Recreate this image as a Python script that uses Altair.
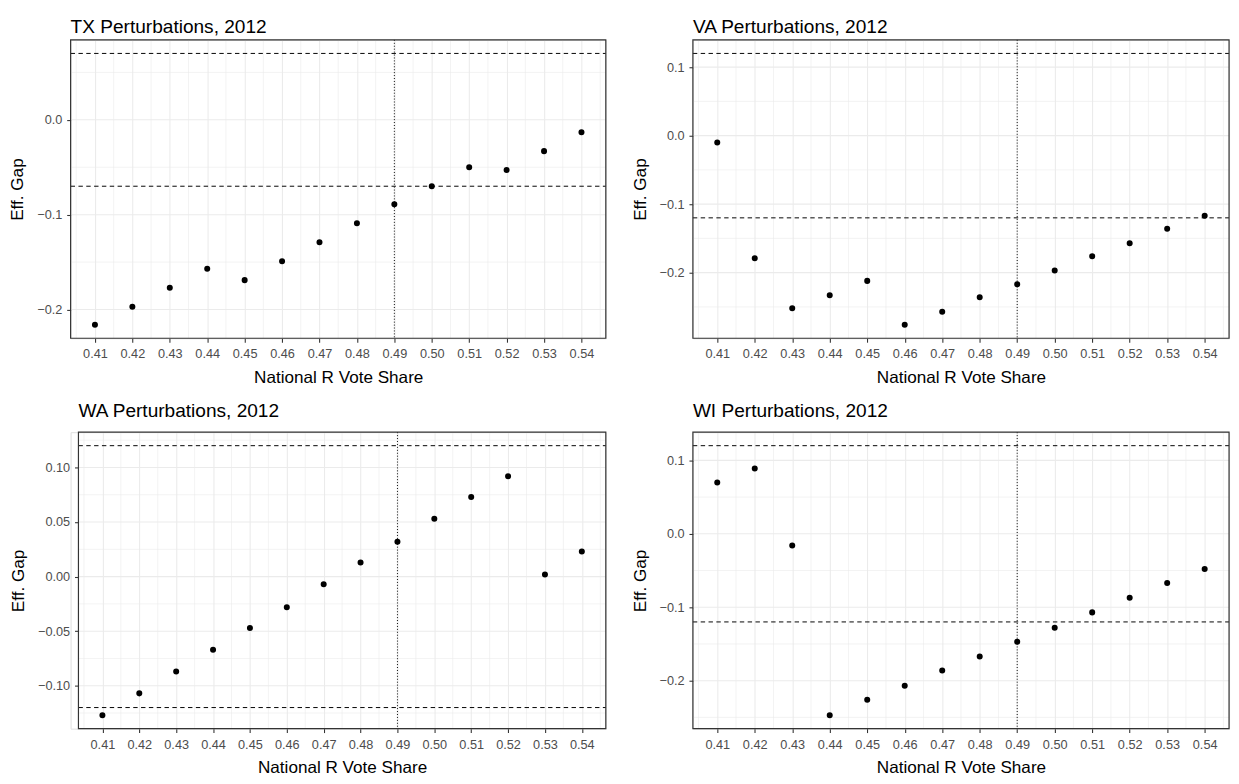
import altair as alt
import pandas as pd

# ---- data ----
vote_share = [0.41, 0.42, 0.43, 0.44, 0.45, 0.46, 0.47, 0.48, 0.49, 0.50, 0.51, 0.52, 0.53, 0.54]
tx_gap = [-0.216, -0.197, -0.177, -0.157, -0.169, -0.149, -0.129, -0.109, -0.089, -0.070, -0.050, -0.053, -0.033, -0.013]
va_gap = [-0.010, -0.179, -0.252, -0.233, -0.212, -0.276, -0.257, -0.236, -0.217, -0.197, -0.176, -0.157, -0.136, -0.117]
wa_gap = [-0.127, -0.107, -0.087, -0.067, -0.047, -0.028, -0.007, 0.013, 0.032, 0.053, 0.073, 0.092, 0.002, 0.023]
wi_gap = [0.070, 0.089, -0.016, -0.247, -0.226, -0.207, -0.186, -0.167, -0.147, -0.128, -0.107, -0.087, -0.067, -0.048]

states = ["TX", "VA", "WA", "WI"]
gaps = {"TX": tx_gap, "VA": va_gap, "WA": wa_gap, "WI": wi_gap}
thresholds = {"TX": 0.07, "VA": 0.12, "WA": 0.12, "WI": 0.12}
y_ticks = {
    "TX": [-0.2, -0.1, 0.0],
    "VA": [-0.2, -0.1, 0.0, 0.1],
    "WA": [-0.10, -0.05, 0.00, 0.05, 0.10],
    "WI": [-0.2, -0.1, 0.0, 0.1],
}
y_formats = {"TX": ".1f", "VA": ".1f", "WA": ".2f", "WI": ".1f"}
x_ticks = vote_share
ref_share = 0.49
year = 2012
x_title = "National R Vote Share"
y_title = "Eff. Gap"

FONT = "Liberation Sans"
GRID = "#EBEBEB"
BORDER = "#333333"
LABEL_FS = 13
TITLE_FS = 17.5
MAIN_FS = 19.5


def expand(lo, hi, f=0.05):
    r = hi - lo
    return [lo - r * f, hi + r * f]


def minor(ticks, dom):
    step = ticks[1] - ticks[0]
    cands = [ticks[0] - step / 2] + [(a + b) / 2 for a, b in zip(ticks[:-1], ticks[1:])] + [ticks[-1] + step / 2]
    return [c for c in cands if dom[0] <= c <= dom[1]]


def axis(values, fmt, title, label_pad, title_pad, grid, offset=0):
    return alt.Axis(values=values, format=fmt, title=title, grid=grid, gridColor=GRID,
                    gridWidth=1.1, domain=False, tickColor=BORDER, tickSize=4, tickWidth=1.1,
                    labelColor="#4D4D4D", labelFontSize=LABEL_FS, labelFont=FONT, labelPadding=label_pad,
                    titleFont=FONT, titleFontSize=TITLE_FS, titleFontWeight="normal", titleColor="black",
                    titlePadding=title_pad, labelFlush=False, offset=offset)


def panel(st, w, h, title_offset, inset=0):
    g = gaps[st]
    thr = thresholds[st]
    xdom = expand(min(vote_share), max(vote_share))
    ydom = expand(min(min(g), -thr), max(max(g), thr))
    if inset:
        xs = alt.Scale(domain=xdom, nice=False, zero=False, range=[inset, w])
    else:
        xs = alt.Scale(domain=xdom, nice=False, zero=False)
    ys = alt.Scale(domain=ydom, nice=False, zero=False)
    xax = axis(x_ticks, ".2f", x_title, 6, 8, True)
    yax = axis(y_ticks[st], y_formats[st], y_title, 5, 10, False, offset=-inset)
    X = lambda f="x": alt.X(f"{f}:Q", scale=xs, axis=xax)
    Y = lambda f="y": alt.Y(f"{f}:Q", scale=ys, axis=yax)

    df = pd.DataFrame({"x": vote_share, "y": g})
    xminor = pd.DataFrame({"x": minor(x_ticks, xdom)})
    ymajor = pd.DataFrame({"y": y_ticks[st], "x": xdom[0], "x2": xdom[1]})
    yminor = pd.DataFrame({"y": minor(y_ticks[st], ydom), "x": xdom[0], "x2": xdom[1]})
    hl = pd.DataFrame({"y": [thr, -thr], "x": xdom[0], "x2": xdom[1]})
    vl = pd.DataFrame({"x": [ref_share]})
    frame = pd.DataFrame({"x": [xdom[0]], "x2": [xdom[1]], "y": [ydom[0]], "y2": [ydom[1]]})

    l_xm = alt.Chart(xminor).mark_rule(color=GRID, strokeWidth=0.6).encode(x=X())
    l_ym = alt.Chart(yminor).mark_rule(color=GRID, strokeWidth=0.6).encode(
        y=Y(), x=X(), x2="x2:Q")
    l_yM = alt.Chart(ymajor).mark_rule(color=GRID, strokeWidth=1.1).encode(
        y=Y(), x=X(), x2="x2:Q")
    l_h = alt.Chart(hl).mark_rule(color="black", strokeWidth=1, strokeDash=[4.5, 3.5]).encode(
        y=Y(), x=X(), x2="x2:Q")
    l_v = alt.Chart(vl).mark_rule(color="black", strokeWidth=1, strokeDash=[1, 2]).encode(x=X())
    l_p = alt.Chart(df).mark_circle(color="black", opacity=1, size=38).encode(x=X(), y=Y())
    l_f = alt.Chart(frame).mark_rect(fillOpacity=0, stroke=BORDER, strokeWidth=1.2).encode(
        x=X(), x2="x2:Q", y=Y(), y2="y2:Q")

    return alt.layer(l_xm, l_ym, l_yM, l_h, l_v, l_p, l_f).properties(
        width=w, height=h,
        title=alt.TitleParams(f"{st} Perturbations, {year}", anchor="start", frame="group",
                              font=FONT, fontSize=MAIN_FS, fontWeight="normal", color="black",
                              offset=title_offset, dx=inset),
    )


chart = alt.concat(
    panel("TX", 547, 305, 2),
    panel("VA", 548, 305, 2),
    panel("WA", 547, 303, 10, inset=8),
    panel("WI", 548, 303, 10),
    columns=2, align="none", spacing={"row": 15, "column": 23},
).properties(
    padding={"left": 0, "top": 0, "right": 0, "bottom": 0}
).configure_view(stroke=None).configure(background="white")

chart.save("out.html", embed_options={"renderer": "svg", "actions": False})
